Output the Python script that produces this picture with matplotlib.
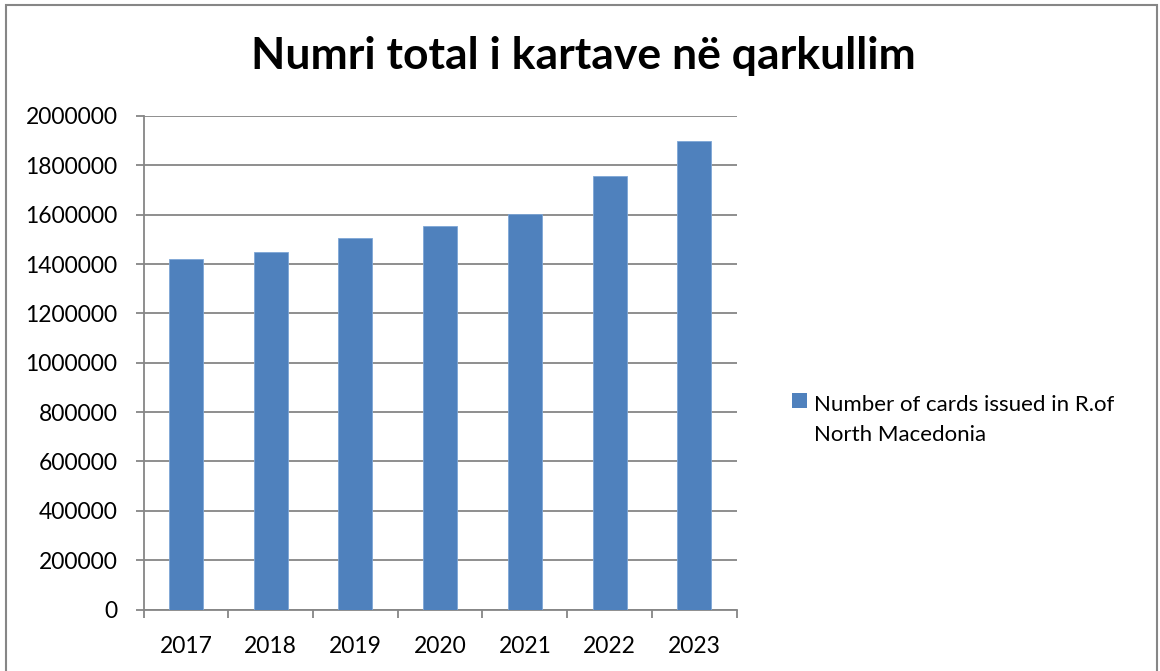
import matplotlib
matplotlib.use("Agg")
import matplotlib.pyplot as plt
from matplotlib.patches import Rectangle
import numpy as np

years = ["2017", "2018", "2019", "2020", "2021", "2022", "2023"]
cards = [1419000, 1448000, 1506000, 1554000, 1602000, 1758000, 1899000]
yticks = [0, 200000, 400000, 600000, 800000, 1000000, 1200000, 1400000, 1600000, 1800000, 2000000]
title = "Numri total i kartave në qarkullim"
series_label = "Number of cards issued in R.of\nNorth Macedonia"

W, H = 1160, 671
plt.rcParams['font.family'] = ['Lato', 'DejaVu Sans']
fig = plt.figure(figsize=(W / 100, H / 100), dpi=100)

grid_col = "#868686"
bar_col = "#4F81BD"

ax = fig.add_axes([143.5 / W, 1 - 609.5 / H, (736.7 - 143.5) / W, (609.5 - 116) / H])
x = np.arange(len(years))
ax.bar(x, cards, width=0.4, color=bar_col, edgecolor="#7EA6D6", linewidth=0.6, zorder=3)
ax.set_xlim(-0.5, len(years) - 0.5)
ax.set_ylim(0, 2000000)
ax.set_yticks(yticks)
ax.set_yticklabels([str(v) for v in yticks])
ax.set_xticks(x)
ax.set_xticklabels(years)
ax.set_xticks(np.arange(-0.5, len(years), 1.0), minor=True)
ax.tick_params(axis='x', which='major', length=0, pad=19, labelsize=16.5)
ax.tick_params(axis='x', which='minor', length=5.8, width=1.3, color=grid_col, direction='out')
ax.tick_params(axis='y', which='major', length=5.8, width=1.3, color=grid_col, pad=13, labelsize=16.5)
ax.yaxis.grid(True, color=grid_col, linewidth=1.3, zorder=0)
ax.set_axisbelow(True)
for s in ['top', 'right']:
    ax.spines[s].set_visible(False)
for s in ['left', 'bottom']:
    ax.spines[s].set_color(grid_col)
    ax.spines[s].set_linewidth(1.3)

fig.text(583 / W, 1 - 56 / H, title, ha='center', va='center', fontsize=32, fontweight='bold')

# legend
fig.patches.append(Rectangle((792 / W, 1 - 408 / H), 15 / W, 15 / H, transform=fig.transFigure,
                             facecolor=bar_col, edgecolor='none'))
fig.text(814 / W, 1 - 441 / H, series_label, ha='left', va='baseline', fontsize=16, linespacing=1.62)

# outer border
fig.patches.append(Rectangle((5.5 / W, -0.1), (1156.5 - 5.5) / W, 0.1 + 1 - 4.5 / H,
                             transform=fig.transFigure, facecolor='none', edgecolor=grid_col,
                             linewidth=1.5, clip_on=False))

fig.savefig("out.png", dpi=100)
